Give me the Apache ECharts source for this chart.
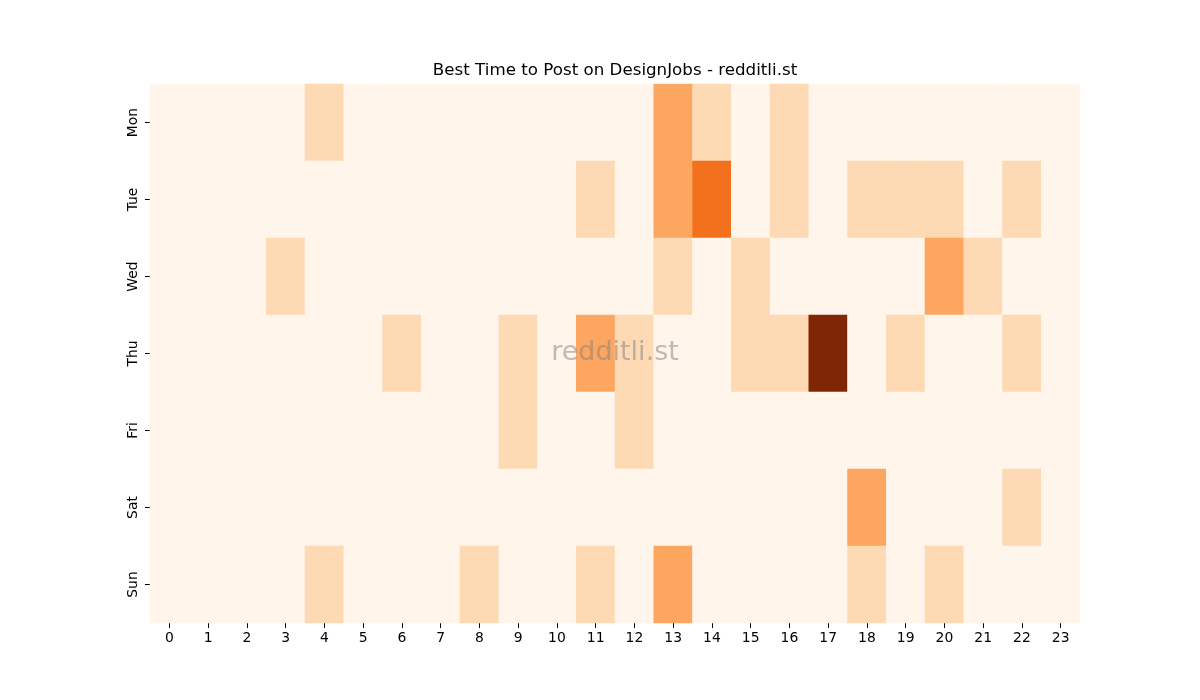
<!DOCTYPE html>
<html>
<head>
<meta charset="utf-8">
<script src="https://cdn.jsdelivr.net/npm/echarts@6/dist/echarts.min.js"></script>
<style>
  html, body { margin: 0; padding: 0; background: #fff; }
  #chart { width: 1200px; height: 700px; }
</style>
</head>
<body>
<div id="chart"></div>
<script>
// hours along the bottom, days down the side
const hours = ['0','1','2','3','4','5','6','7','8','9','10','11','12','13','14','15','16','17','18','19','20','21','22','23']
const days = ['Mon', 'Tue', 'Wed', 'Thu', 'Fri', 'Sat', 'Sun']

// post counts per day, one value per hour
const mon = [0,0,0,0,1,0,0,0,0,0,0,0,0,2,1,0,1,0,0,0,0,0,0,0]
const tue = [0,0,0,0,0,0,0,0,0,0,0,1,0,2,3,0,1,0,1,1,1,0,1,0]
const wed = [0,0,0,1,0,0,0,0,0,0,0,0,0,1,0,1,0,0,0,0,2,1,0,0]
const thu = [0,0,0,0,0,0,1,0,0,1,0,2,1,0,0,1,1,5,0,1,0,0,1,0]
const fri = [0,0,0,0,0,0,0,0,0,1,0,0,1,0,0,0,0,0,0,0,0,0,0,0]
const sat = [0,0,0,0,0,0,0,0,0,0,0,0,0,0,0,0,0,0,2,0,0,0,1,0]
const sun = [0,0,0,0,1,0,0,0,1,0,0,1,0,2,0,0,0,0,1,0,1,0,0,0]

const rows = [mon, tue, wed, thu, fri, sat, sun]
const cells = []
rows.forEach((row, d) => row.forEach((v, h) => cells.push([h, d, v])))

const chart = echarts.init(document.getElementById('chart'))
const font = 'DejaVu Sans'

chart.setOption({
  backgroundColor: '#fff',
  animation: false,
  grid: { left: 150, top: 84, width: 930, height: 539 },
  xAxis: {
    type: 'category',
    data: hours,
    axisLine: { show: false },
    axisTick: { show: true, alignWithLabel: true, length: 5, lineStyle: { color: '#000' } },
    axisLabel: { fontFamily: font, fontSize: 13.9, color: '#000', margin: 8, interval: 0 },
    splitLine: { show: false },
  },
  yAxis: {
    type: 'category',
    data: days,
    inverse: true,
    axisLine: { show: false },
    axisTick: { show: true, alignWithLabel: true, length: 5, lineStyle: { color: '#000' } },
    axisLabel: { fontFamily: font, fontSize: 13.9, color: '#000', rotate: 90, margin: 10 },
    splitLine: { show: false },
  },
  visualMap: {
    show: false,
    type: 'piecewise',
    dimension: 2,
    pieces: [
      { value: 0, color: '#fff5eb' },
      { value: 1, color: '#fdd9b4' },
      { value: 2, color: '#fda660' },
      { value: 3, color: '#f3711c' },
      { value: 4, color: '#c44103' },
      { value: 5, color: '#7f2704' },
    ],
  },
  graphic: [
    {
      type: 'text',
      x: 615,
      y: 71,
      z: 100,
      style: {
        text: 'Best Time to Post on DesignJobs - redditli.st',
        fontFamily: font,
        fontSize: 16.7,
        fill: '#000',
        align: 'center',
        verticalAlign: 'middle',
      },
    },
    {
      type: 'text',
      x: 615,
      y: 353,
      z: 100,
      style: {
        text: 'redditli.st',
        fontFamily: font,
        fontSize: 27,
        fill: 'rgba(128,128,128,0.5)',
        align: 'center',
        verticalAlign: 'middle',
      },
    },
  ],
  series: [{
    type: 'heatmap',
    data: cells,
    itemStyle: { borderWidth: 0 },
    emphasis: { disabled: true },
  }],
})
</script>
</body>
</html>
